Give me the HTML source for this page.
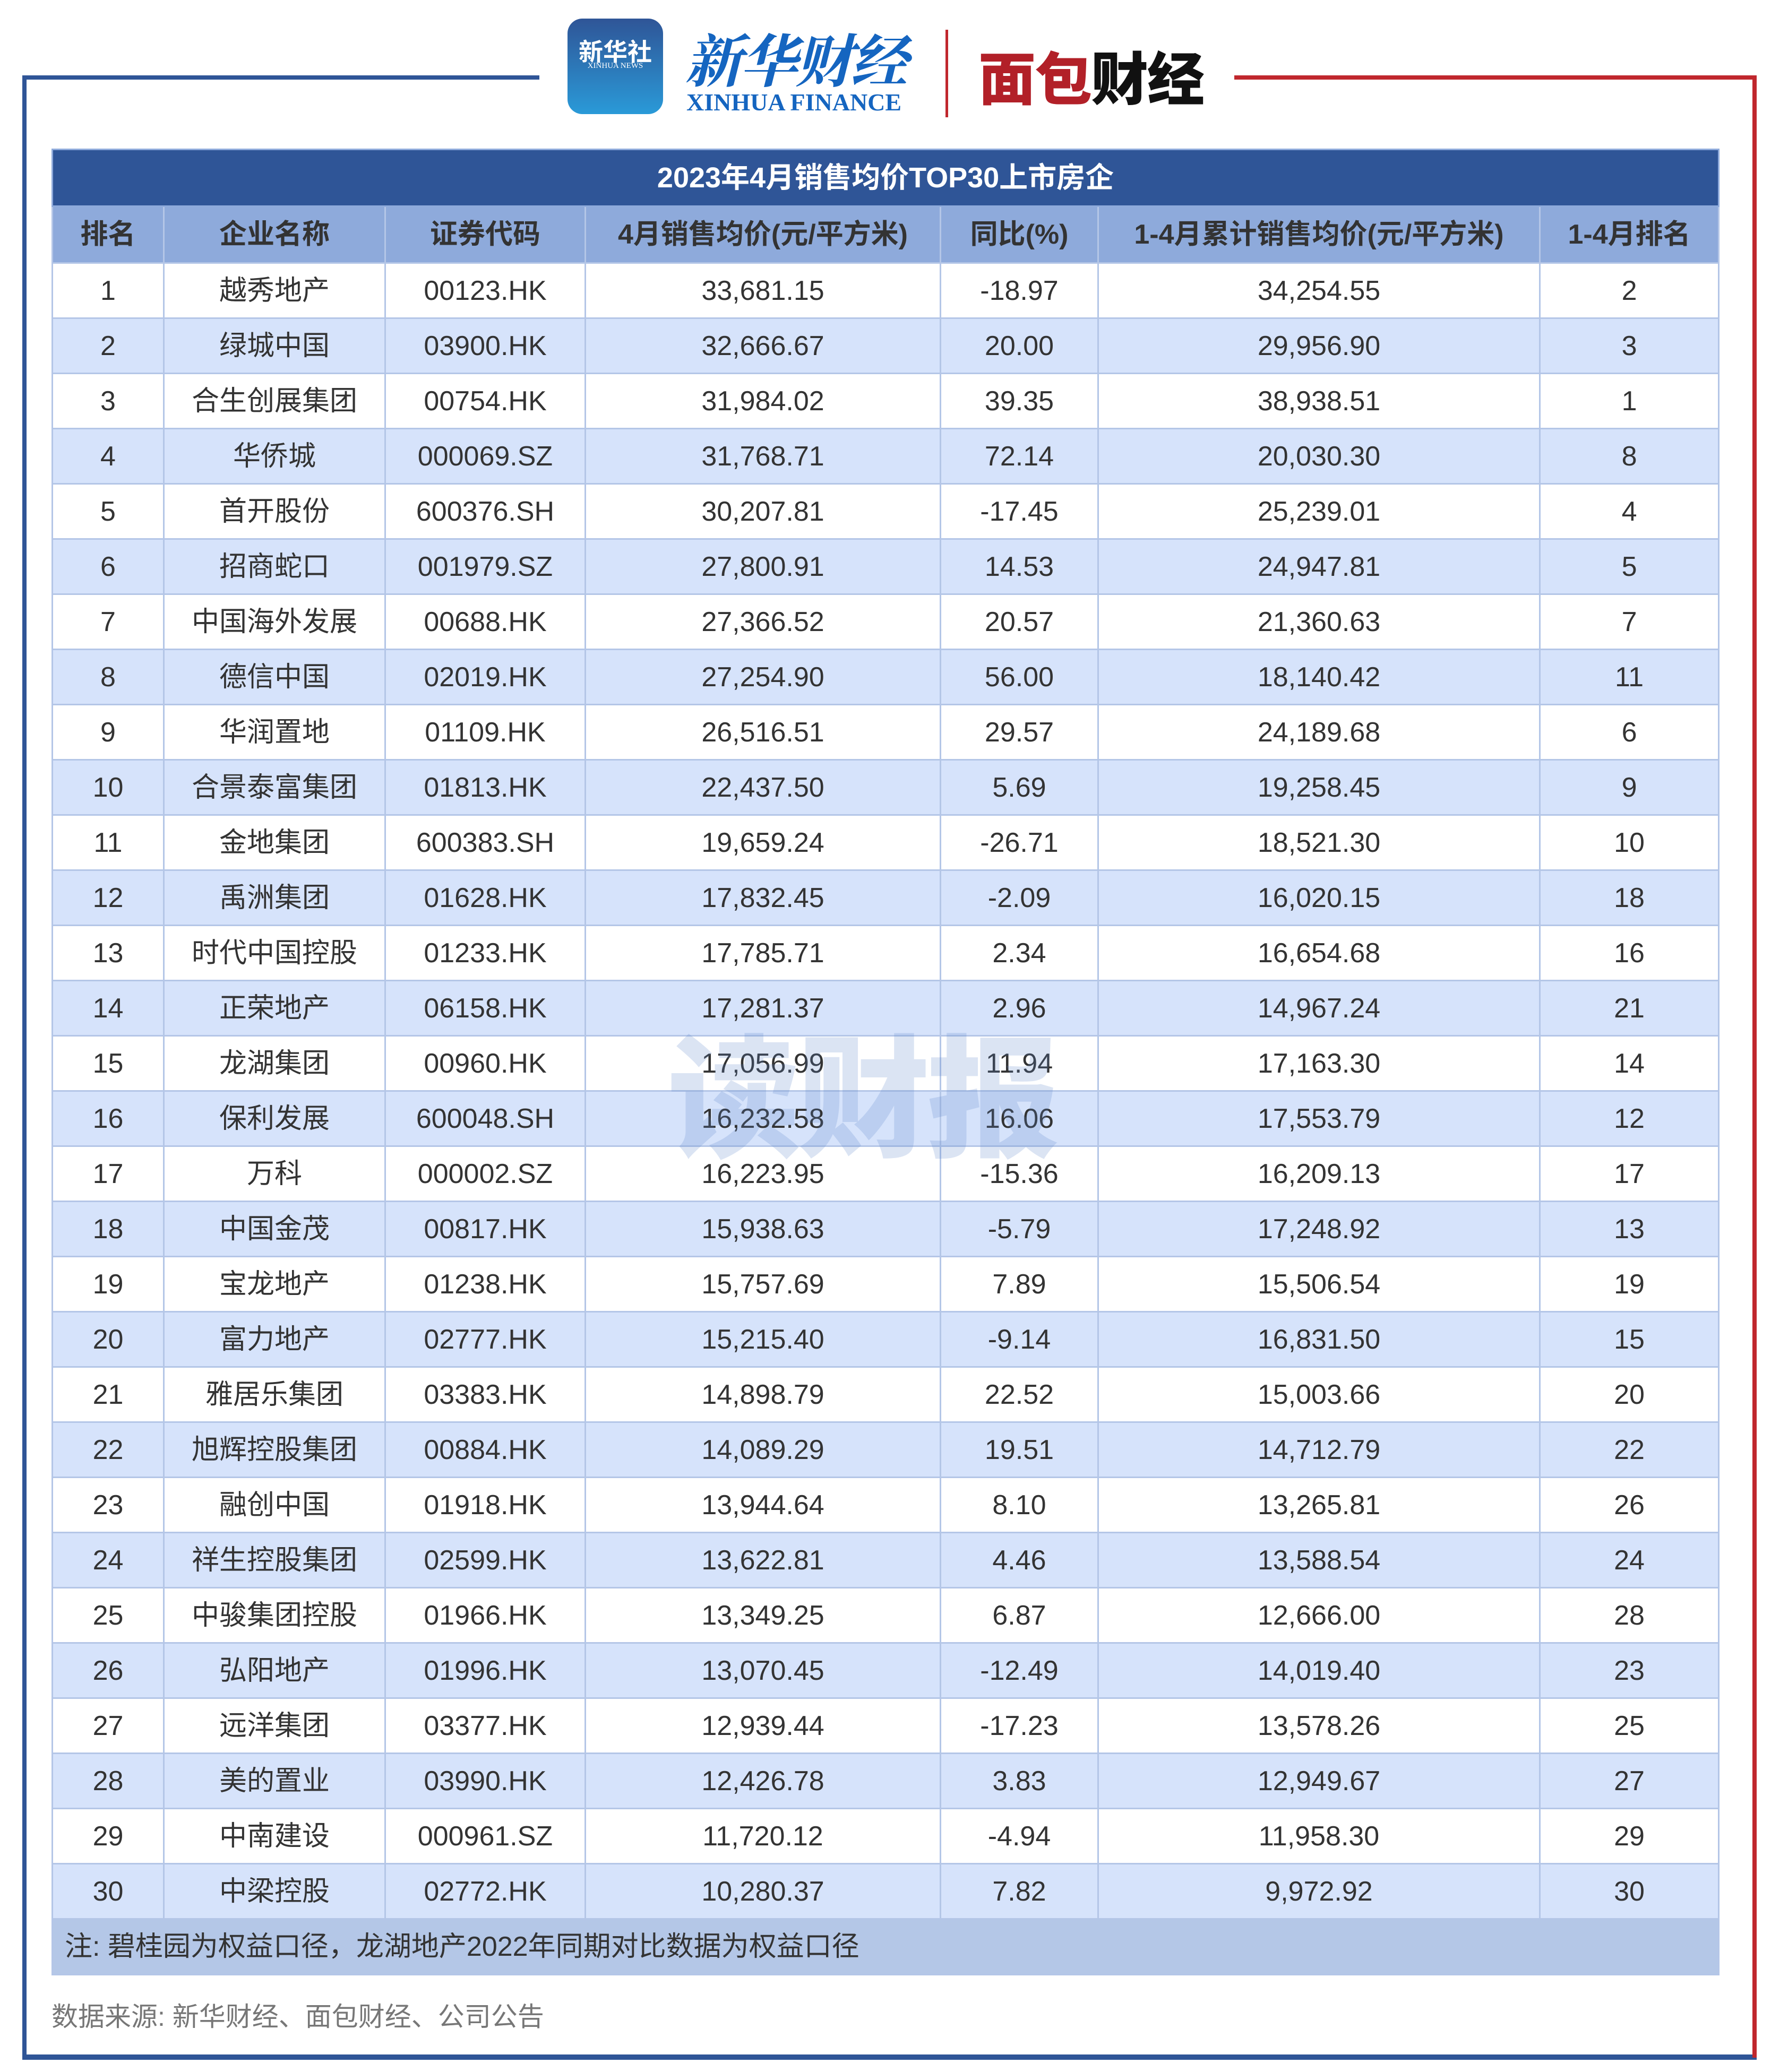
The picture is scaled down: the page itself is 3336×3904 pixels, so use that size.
<!DOCTYPE html>
<html><head><meta charset="utf-8">
<style>
html,body{margin:0;padding:0;background:#fff;}
body{width:3336px;height:3904px;position:relative;overflow:hidden;font-family:"Liberation Sans","Noto Sans CJK SC",sans-serif;}
.a{position:absolute;}
table{position:absolute;left:97px;top:280px;width:3139px;border-collapse:collapse;table-layout:fixed;}
td{border:3px solid #b4c6e7;text-align:center;color:#333;font-size:52px;padding:0;height:101px;line-height:1;}
tr.title td{background:#2f5597;color:#fff;font-weight:bold;font-size:54px;height:104px;border-color:#8eaadb;}
tr.head td{background:#8eaadb;color:#333;font-weight:bold;font-size:52px;height:104px;}
tr:nth-child(odd).r td{background:#fff;}
tr:nth-child(even).r td{background:#d6e3fb;}
tr.note td{background:#b4c7e7;text-align:left;padding-left:22px;height:102px;}
</style></head><body>
<!-- frame -->
<div class="a" style="left:42px;top:142px;width:974px;height:8px;background:#2f5597"></div>
<div class="a" style="left:42px;top:142px;width:8px;height:3739px;background:#2f5597"></div>
<div class="a" style="left:42px;top:3871px;width:3267px;height:10px;background:#2f5597"></div>
<div class="a" style="left:2325px;top:142px;width:984px;height:8px;background:#c0272d"></div>
<div class="a" style="left:3301px;top:142px;width:8px;height:3735px;background:#c0272d"></div>
<!-- logos -->
<div class="a" style="left:1069px;top:35px;width:180px;height:180px;border-radius:28px;background:linear-gradient(#2f5597,#2a9ad8);"></div>
<div class="a" style="left:1069px;top:62px;width:180px;text-align:center;color:#fff;font-size:46px;font-weight:bold;">新华社</div>
<div class="a" style="left:1069px;top:116px;width:180px;text-align:center;color:#fff;font-size:15px;font-family:'Liberation Serif',serif;">XINHUA NEWS</div>
<div class="a" style="left:1290px;top:30px;color:#1565c0;font-size:108px;font-weight:bold;font-style:italic;font-family:'Liberation Serif','Noto Serif CJK SC',serif;letter-spacing:-4px;">新华财经</div>
<div class="a" style="left:1293px;top:166px;color:#1565c0;font-size:46px;font-weight:bold;font-family:'Liberation Serif',serif;">XINHUA FINANCE</div>
<div class="a" style="left:1781px;top:56px;width:5px;height:165px;background:#c0272d"></div>
<div class="a" style="left:1843px;top:64px;font-size:108px;font-weight:900;letter-spacing:-2px;"><span style="color:#b22028">面包</span><span style="color:#111">财经</span></div>
<!-- table -->
<table>
<colgroup><col style="width:210px"><col style="width:417px"><col style="width:377px"><col style="width:669px"><col style="width:297px"><col style="width:832px"><col style="width:337px"></colgroup>
<tr class="title"><td colspan="7">2023年4月销售均价TOP30上市房企</td></tr>
<tr class="head"><td>排名</td><td>企业名称</td><td>证券代码</td><td>4月销售均价(元/平方米)</td><td>同比(%)</td><td>1-4月累计销售均价(元/平方米)</td><td>1-4月排名</td></tr>
<tr class="r"><td>1</td><td>越秀地产</td><td>00123.HK</td><td>33,681.15</td><td>-18.97</td><td>34,254.55</td><td>2</td></tr>
<tr class="r"><td>2</td><td>绿城中国</td><td>03900.HK</td><td>32,666.67</td><td>20.00</td><td>29,956.90</td><td>3</td></tr>
<tr class="r"><td>3</td><td>合生创展集团</td><td>00754.HK</td><td>31,984.02</td><td>39.35</td><td>38,938.51</td><td>1</td></tr>
<tr class="r"><td>4</td><td>华侨城</td><td>000069.SZ</td><td>31,768.71</td><td>72.14</td><td>20,030.30</td><td>8</td></tr>
<tr class="r"><td>5</td><td>首开股份</td><td>600376.SH</td><td>30,207.81</td><td>-17.45</td><td>25,239.01</td><td>4</td></tr>
<tr class="r"><td>6</td><td>招商蛇口</td><td>001979.SZ</td><td>27,800.91</td><td>14.53</td><td>24,947.81</td><td>5</td></tr>
<tr class="r"><td>7</td><td>中国海外发展</td><td>00688.HK</td><td>27,366.52</td><td>20.57</td><td>21,360.63</td><td>7</td></tr>
<tr class="r"><td>8</td><td>德信中国</td><td>02019.HK</td><td>27,254.90</td><td>56.00</td><td>18,140.42</td><td>11</td></tr>
<tr class="r"><td>9</td><td>华润置地</td><td>01109.HK</td><td>26,516.51</td><td>29.57</td><td>24,189.68</td><td>6</td></tr>
<tr class="r"><td>10</td><td>合景泰富集团</td><td>01813.HK</td><td>22,437.50</td><td>5.69</td><td>19,258.45</td><td>9</td></tr>
<tr class="r"><td>11</td><td>金地集团</td><td>600383.SH</td><td>19,659.24</td><td>-26.71</td><td>18,521.30</td><td>10</td></tr>
<tr class="r"><td>12</td><td>禹洲集团</td><td>01628.HK</td><td>17,832.45</td><td>-2.09</td><td>16,020.15</td><td>18</td></tr>
<tr class="r"><td>13</td><td>时代中国控股</td><td>01233.HK</td><td>17,785.71</td><td>2.34</td><td>16,654.68</td><td>16</td></tr>
<tr class="r"><td>14</td><td>正荣地产</td><td>06158.HK</td><td>17,281.37</td><td>2.96</td><td>14,967.24</td><td>21</td></tr>
<tr class="r"><td>15</td><td>龙湖集团</td><td>00960.HK</td><td>17,056.99</td><td>11.94</td><td>17,163.30</td><td>14</td></tr>
<tr class="r"><td>16</td><td>保利发展</td><td>600048.SH</td><td>16,232.58</td><td>16.06</td><td>17,553.79</td><td>12</td></tr>
<tr class="r"><td>17</td><td>万科</td><td>000002.SZ</td><td>16,223.95</td><td>-15.36</td><td>16,209.13</td><td>17</td></tr>
<tr class="r"><td>18</td><td>中国金茂</td><td>00817.HK</td><td>15,938.63</td><td>-5.79</td><td>17,248.92</td><td>13</td></tr>
<tr class="r"><td>19</td><td>宝龙地产</td><td>01238.HK</td><td>15,757.69</td><td>7.89</td><td>15,506.54</td><td>19</td></tr>
<tr class="r"><td>20</td><td>富力地产</td><td>02777.HK</td><td>15,215.40</td><td>-9.14</td><td>16,831.50</td><td>15</td></tr>
<tr class="r"><td>21</td><td>雅居乐集团</td><td>03383.HK</td><td>14,898.79</td><td>22.52</td><td>15,003.66</td><td>20</td></tr>
<tr class="r"><td>22</td><td>旭辉控股集团</td><td>00884.HK</td><td>14,089.29</td><td>19.51</td><td>14,712.79</td><td>22</td></tr>
<tr class="r"><td>23</td><td>融创中国</td><td>01918.HK</td><td>13,944.64</td><td>8.10</td><td>13,265.81</td><td>26</td></tr>
<tr class="r"><td>24</td><td>祥生控股集团</td><td>02599.HK</td><td>13,622.81</td><td>4.46</td><td>13,588.54</td><td>24</td></tr>
<tr class="r"><td>25</td><td>中骏集团控股</td><td>01966.HK</td><td>13,349.25</td><td>6.87</td><td>12,666.00</td><td>28</td></tr>
<tr class="r"><td>26</td><td>弘阳地产</td><td>01996.HK</td><td>13,070.45</td><td>-12.49</td><td>14,019.40</td><td>23</td></tr>
<tr class="r"><td>27</td><td>远洋集团</td><td>03377.HK</td><td>12,939.44</td><td>-17.23</td><td>13,578.26</td><td>25</td></tr>
<tr class="r"><td>28</td><td>美的置业</td><td>03990.HK</td><td>12,426.78</td><td>3.83</td><td>12,949.67</td><td>27</td></tr>
<tr class="r"><td>29</td><td>中南建设</td><td>000961.SZ</td><td>11,720.12</td><td>-4.94</td><td>11,958.30</td><td>29</td></tr>
<tr class="r"><td>30</td><td>中梁控股</td><td>02772.HK</td><td>10,280.37</td><td>7.82</td><td>9,972.92</td><td>30</td></tr>
<tr class="note"><td colspan="7">注: 碧桂园为权益口径，龙湖地产2022年同期对比数据为权益口径</td></tr>
</table>
<div class="a" style="left:1258px;top:1870px;font-size:250px;font-weight:900;color:rgba(90,130,200,0.22);letter-spacing:-6px;">读财报</div>
<div class="a" style="left:97px;top:3760px;font-size:50px;color:#777;">数据来源: 新华财经、面包财经、公司公告</div>
</body></html>
